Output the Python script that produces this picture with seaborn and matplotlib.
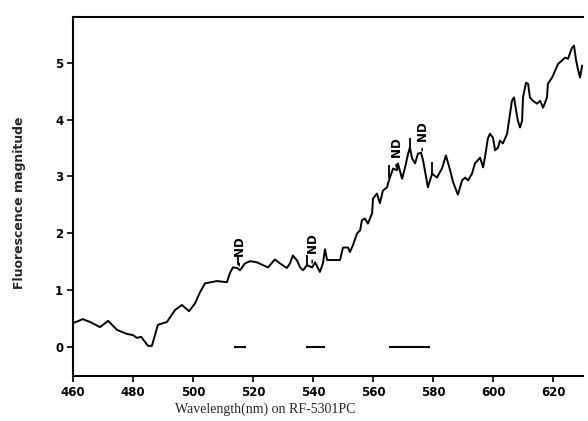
import matplotlib
matplotlib.use("Agg")
import matplotlib.pyplot as plt
import seaborn as sns
import pandas as pd

wavelength = [460, 463.3, 465.7, 469, 471.7, 474.7, 478, 480, 481.3, 482.7, 485, 486.3, 488.3,
              491.3, 494, 496.3, 498.7, 500.7, 502.3, 504, 505, 508, 511.3, 512.3, 513.3, 514.7,
              515.7, 517.3, 519, 521.3, 523.3, 525, 527.3, 529, 531.3, 532.3, 533.3, 534.7,
              535.7, 536.7, 538, 539.7, 540.7, 542.3, 543.3, 544, 544.7, 549, 550, 551.7, 552.3,
              553.3, 554.7, 555.7, 556.3, 557.3, 558.3, 559.7, 560, 561.3, 562.3, 563.3, 564.7,
              565.3, 566.7, 568, 568.3, 569.7, 570.7, 571.7, 572.3, 573, 574, 575, 576, 576.7,
              578, 578.3, 579.7, 581.3, 583, 584.3, 585.7, 586.7, 588.3, 589.7, 590.7, 591.7,
              593, 594, 595.7, 596.7, 597.3, 598.3, 599, 600, 600.7, 601.7, 602.3, 603.3, 604.7,
              605, 606.3, 607, 607.7, 608.3, 609, 609.7, 610, 611, 611.7, 612.3, 613.3, 614.7,
              615.7, 616.7, 618, 618.3, 619.7, 620.7, 621.7, 623, 624, 625, 626.3, 627, 627.7,
              628.3, 629, 629.7]
magnitude = [0.42, 0.49, 0.44, 0.35, 0.46, 0.30, 0.23, 0.21, 0.16, 0.18, 0.02, 0.02, 0.39,
             0.44, 0.65, 0.74, 0.63, 0.77, 0.96, 1.12, 1.13, 1.16, 1.14, 1.30, 1.40, 1.39,
             1.35, 1.47, 1.51, 1.49, 1.44, 1.40, 1.54, 1.47, 1.39, 1.47, 1.61, 1.52, 1.40,
             1.35, 1.44, 1.40, 1.49, 1.32, 1.47, 1.72, 1.53, 1.53, 1.75, 1.75, 1.67, 1.79,
             2.00, 2.05, 2.23, 2.26, 2.17, 2.35, 2.61, 2.70, 2.53, 2.75, 2.81, 2.93, 3.14,
             3.11, 3.23, 2.96, 3.16, 3.40, 3.51, 3.32, 3.23, 3.40, 3.42, 3.28, 2.90, 2.81,
             3.05, 2.98, 3.14, 3.37, 3.11, 2.90, 2.68, 2.93, 2.98, 2.93, 3.05, 3.23, 3.33,
             3.16, 3.33, 3.67, 3.75, 3.68, 3.46, 3.51, 3.63, 3.58, 3.75, 3.86, 4.33, 4.39,
             4.16, 3.98, 3.86, 3.98, 4.39, 4.65, 4.63, 4.39, 4.33, 4.28, 4.33, 4.21, 4.39,
             4.63, 4.74, 4.86, 4.98, 5.04, 5.09, 5.07, 5.26, 5.30, 5.04, 4.89, 4.74, 4.95]

# ND annotations (wavelength, magnitude at text base)
nd_wl = [516.0, 540.3, 568.3, 576.7]
nd_val = [1.42, 1.47, 3.16, 3.45]
nd_text = ["- ND", "- ND", "- ND", "- ND"]

# small vertical marks
mark_wl = [515.0, 538.0, 565.3, 572.3, 579.7]
mark_lo = [1.44, 1.44, 2.97, 3.46, 3.05]
mark_hi = [1.61, 1.61, 3.20, 3.67, 3.25]

# horizontal bars at zero
bar_start = [513.7, 537.7, 565.3]
bar_end = [517.7, 544.0, 579.0]

x_ticks = [460, 480, 500, 520, 540, 560, 580, 600, 620]
y_ticks = [0, 1, 2, 3, 4, 5]

sns.set_style("ticks")
plt.rcParams['font.family'] = ['DejaVu Sans']

fig = plt.figure(figsize=(5.88, 4.21), dpi=100)
ax = fig.add_axes([73 / 588, 1 - 376 / 421, 510 / 588, (376 - 16.7) / 421])

df = pd.DataFrame({"wl": wavelength, "mag": magnitude})
sns.lineplot(data=df, x="wl", y="mag", ax=ax, color="black", linewidth=1.4,
             sort=False, estimator=None)

for s, e in zip(bar_start, bar_end):
    ax.plot([s, e], [0, 0], color="black", linewidth=1.5, solid_capstyle="butt")
ax.vlines(mark_wl, mark_lo, mark_hi, color="black", linewidth=1.3)
for w, v, t in zip(nd_wl, nd_val, nd_text):
    ax.text(w, v, t, rotation=90, ha="center", va="bottom", fontsize=8.5,
            fontweight="bold", color="black")

ax.set_xlim(460, 630)
ax.set_ylim(-0.51, 5.81)
ax.set_xticks(x_ticks)
ax.set_yticks(y_ticks)
ax.tick_params(axis="both", direction="out", length=4, width=1.2, labelsize=8.5,
               colors="black", pad=3)
for lab in ax.get_xticklabels() + ax.get_yticklabels():
    lab.set_fontweight("bold")
ax.set_xlabel("")
ax.set_ylabel("")
for side in ["left", "bottom", "top"]:
    ax.spines[side].set_linewidth(1.5)
    ax.spines[side].set_color("black")
ax.spines["right"].set_visible(False)

fig.text(20 / 588, 1 - 203 / 421, "Fluorescence magnitude", rotation=90,
         ha="center", va="center", fontsize=9, fontweight="bold")
fig.text(265 / 588, 1 - 409 / 421, "Wavelength(nm) on RF-5301PC",
         ha="center", va="center", fontsize=10, family="Liberation Serif")

fig.savefig("out.png", dpi=100)
